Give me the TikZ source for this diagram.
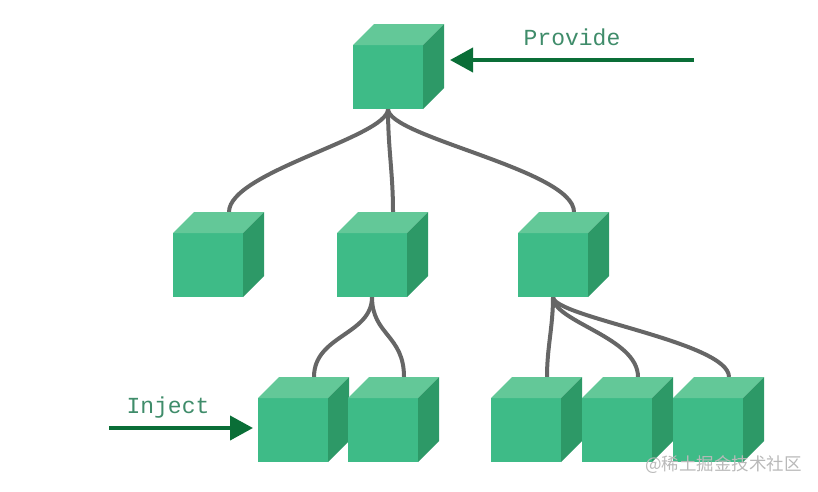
\documentclass[tikz,border=0pt]{standalone}
\usepackage{fontspec}
\usetikzlibrary{arrows.meta,calc}
\newfontfamily\labelfont{Liberation Mono}
\newfontfamily\cjkfont{Noto Sans CJK SC}
\definecolor{frontc}{HTML}{3EBB87}
\definecolor{topc}{HTML}{63C898}
\definecolor{sidec}{HTML}{2D9967}
\definecolor{linkc}{HTML}{666666}
\definecolor{arrowc}{HTML}{0A6E37}
\definecolor{textc}{HTML}{3F8C6A}
\tikzset{
  cubebox/.style={fill=frontc,minimum width=70pt,minimum height=64pt,inner sep=0pt,outer sep=0pt},
  link/.style={draw=linkc,line width=4pt},
  bigarrow/.style={draw=arrowc,line width=4pt,-{Triangle[length=23pt,width=24pt]}},
  lbl/.style={text=textc,font=\labelfont\fontsize{23}{23}\selectfont,inner sep=0pt,anchor=base},
}
\newcommand\cubefaces[1]{%
  \fill[topc] (#1.north west) -- ++(21,-21) -- ++(70,0) -- (#1.north east) -- cycle;
  \fill[sidec] (#1.north east) -- ++(21,-21) -- ++(0,64) -- (#1.south east) -- cycle;
}
\begin{document}
\begin{tikzpicture}[x=1pt,y=-1pt]
\useasboundingbox (0,0) rectangle (818,491);
\path
  (388,77) coordinate (pT)
  (208,265) coordinate (p1) (372,265) coordinate (p2) (553,265) coordinate (p3)
  (293,430) coordinate (pa) (383,430) coordinate (pb)
  (526,430) coordinate (pc) (617,430) coordinate (pd) (708,430) coordinate (pe);
\foreach \n in {T,1,2,3,a,b,c,d,e}{
  \node[minimum width=70pt,minimum height=64pt,inner sep=0pt,outer sep=0pt] (c\n) at (p\n) {};
  \coordinate (t\n) at ($(c\n.north)+(21,-21)$);
}
% connectors
\draw[link] (cT.south) .. controls +(0,28) and +(0,-40) .. (t1);
\draw[link] (cT.south) .. controls +(0,40) and +(0,-40) .. (t2);
\draw[link] (cT.south) .. controls +(0,28) and +(0,-42) .. (t3);
\draw[link] (c2.south) .. controls +(0,38) and +(0,-42) .. (ta);
\draw[link] (c2.south) .. controls +(0,38) and +(0,-42) .. (tb);
\draw[link] (c3.south) .. controls +(0,30) and +(0,-30) .. (tc);
\draw[link] (c3.south) .. controls +(0,25) and +(0,-40) .. (td);
\draw[link] (c3.south) .. controls +(0,20) and +(0,-35) .. (te);
% cubes
\foreach \n in {T,1,2,3,a,b,c,d,e}{
  \node[cubebox] at (c\n) {};
  \cubefaces{c\n}
}
% labels and arrows
\node[lbl] (provide) at (572,45) {Provide};
\coordinate (provfrom) at (694,60);
\coordinate (provto) at ($(cT.east |- provfrom)+(27,0)$);
\draw[bigarrow] (provfrom) -- (provto);
\node[lbl] (inject) at (168,413) {Inject};
\coordinate (injfrom) at (109,428);
\draw[bigarrow,shorten >=5pt] (injfrom) -- (ca.west |- injfrom);
\node[text=gray!55,font=\cjkfont\fontsize{17.5}{17.5}\selectfont,anchor=east,inner sep=0pt] (wm) at (802,465) {@稀土掘金技术社区};
\end{tikzpicture}
\end{document}
